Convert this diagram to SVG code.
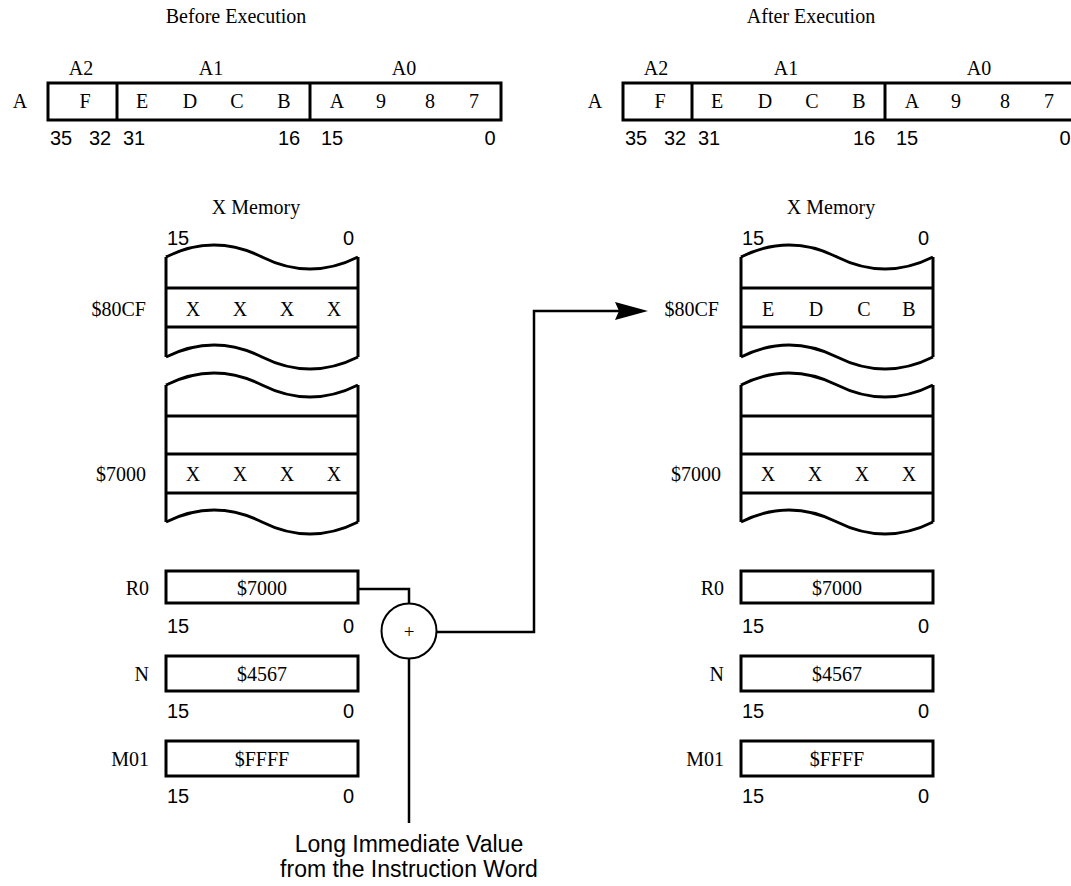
<svg xmlns="http://www.w3.org/2000/svg" width="1071" height="886" viewBox="0 0 1071 886">
<style>
.s{font-family:"Liberation Serif","Times New Roman",serif;font-size:20px;fill:#000}
.n{font-family:"Liberation Sans",Arial,sans-serif;font-size:20px;fill:#000}
.m{text-anchor:middle}
.e{text-anchor:end}
.b{fill:none;stroke:#000;stroke-width:3}
.c{fill:none;stroke:#000;stroke-width:2.5}
</style>
<defs>
<g id="reg">
<text class="s m" x="81" y="75">A2</text>
<text class="s m" x="211" y="75">A1</text>
<text class="s m" x="404" y="75">A0</text>
<text class="s m" x="20" y="108">A</text>
<rect class="b" x="48" y="83" width="453" height="37"/>
<line class="b" x1="117" y1="83" x2="117" y2="120"/>
<line class="b" x1="310" y1="83" x2="310" y2="120"/>
<text class="s m" x="85" y="108">F</text>
<text class="s m" x="142" y="108">E</text>
<text class="s m" x="190" y="108">D</text>
<text class="s m" x="237" y="108">C</text>
<text class="s m" x="284" y="108">B</text>
<text class="s m" x="337" y="108">A</text>
<text class="s m" x="381" y="108">9</text>
<text class="s m" x="430" y="108">8</text>
<text class="s m" x="474" y="108">7</text>
<text class="n m" x="61" y="145">35</text>
<text class="n m" x="100" y="145">32</text>
<text class="n m" x="134" y="145">31</text>
<text class="n m" x="289" y="145">16</text>
<text class="n m" x="332" y="145">15</text>
<text class="n m" x="490" y="145">0</text>
</g>
<path id="wave" class="b" d="M166,0 C198,-16 230,-16 262,0 C294,16 326,16 358,0"/>
</defs>

<g id="before-title"><text class="s m" x="236" y="23">Before Execution</text></g>
<g id="after-title"><text class="s m" x="811" y="23">After Execution</text></g>

<g id="acc-before"><use href="#reg"/></g>
<g id="acc-after"><use href="#reg" transform="translate(575,0)"/></g>

<g id="xmem-before">
<text class="s m" x="256" y="214">X Memory</text>
<text class="n" x="167" y="245">15</text>
<text class="n e" x="354" y="245">0</text>
<use href="#wave" transform="translate(0,257)"/>
<use href="#wave" transform="translate(0,357)"/>
<line class="b" x1="166" y1="257" x2="166" y2="357"/>
<line class="b" x1="358" y1="257" x2="358" y2="357"/>
<line class="b" x1="166" y1="288" x2="358" y2="288"/>
<line class="b" x1="166" y1="327" x2="358" y2="327"/>
<text class="s e" x="146" y="316">$80CF</text>
<text class="s m" x="193" y="316">X</text>
<text class="s m" x="240" y="316">X</text>
<text class="s m" x="287" y="316">X</text>
<text class="s m" x="334" y="316">X</text>
<use href="#wave" transform="translate(0,385)"/>
<use href="#wave" transform="translate(0,522)"/>
<line class="b" x1="166" y1="385" x2="166" y2="522"/>
<line class="b" x1="358" y1="385" x2="358" y2="522"/>
<line class="b" x1="166" y1="416" x2="358" y2="416"/>
<line class="b" x1="166" y1="454" x2="358" y2="454"/>
<line class="b" x1="166" y1="493" x2="358" y2="493"/>
<text class="s e" x="146" y="481">$7000</text>
<text class="s m" x="193" y="481">X</text>
<text class="s m" x="240" y="481">X</text>
<text class="s m" x="287" y="481">X</text>
<text class="s m" x="334" y="481">X</text>
</g>

<g id="xmem-after">
<text class="s m" x="831" y="214">X Memory</text>
<text class="n" x="742" y="245">15</text>
<text class="n e" x="929" y="245">0</text>
<use href="#wave" transform="translate(575,257)"/>
<use href="#wave" transform="translate(575,357)"/>
<line class="b" x1="741" y1="257" x2="741" y2="357"/>
<line class="b" x1="933" y1="257" x2="933" y2="357"/>
<line class="b" x1="741" y1="288" x2="933" y2="288"/>
<line class="b" x1="741" y1="327" x2="933" y2="327"/>
<text class="s e" x="719" y="316">$80CF</text>
<text class="s m" x="768" y="316">E</text>
<text class="s m" x="816" y="316">D</text>
<text class="s m" x="864" y="316">C</text>
<text class="s m" x="909" y="316">B</text>
<use href="#wave" transform="translate(575,385)"/>
<use href="#wave" transform="translate(575,522)"/>
<line class="b" x1="741" y1="385" x2="741" y2="522"/>
<line class="b" x1="933" y1="385" x2="933" y2="522"/>
<line class="b" x1="741" y1="416" x2="933" y2="416"/>
<line class="b" x1="741" y1="454" x2="933" y2="454"/>
<line class="b" x1="741" y1="493" x2="933" y2="493"/>
<text class="s e" x="721" y="481">$7000</text>
<text class="s m" x="768" y="481">X</text>
<text class="s m" x="815" y="481">X</text>
<text class="s m" x="862" y="481">X</text>
<text class="s m" x="909" y="481">X</text>
</g>

<g id="regs-before">
<text class="s e" x="149" y="595">R0</text>
<rect class="b" x="166" y="571" width="192" height="32"/>
<text class="s m" x="262" y="595">$7000</text>
<text class="n" x="167" y="633">15</text>
<text class="n e" x="354" y="633">0</text>
<text class="s e" x="149" y="681">N</text>
<rect class="b" x="166" y="656" width="192" height="35"/>
<text class="s m" x="262" y="681">$4567</text>
<text class="n" x="167" y="718">15</text>
<text class="n e" x="354" y="718">0</text>
<text class="s e" x="149" y="766">M01</text>
<rect class="b" x="166" y="741" width="192" height="35"/>
<text class="s m" x="262" y="766">$FFFF</text>
<text class="n" x="167" y="803">15</text>
<text class="n e" x="354" y="803">0</text>
</g>

<g id="regs-after">
<text class="s e" x="724" y="595">R0</text>
<rect class="b" x="741" y="571" width="192" height="32"/>
<text class="s m" x="837" y="595">$7000</text>
<text class="n" x="742" y="633">15</text>
<text class="n e" x="929" y="633">0</text>
<text class="s e" x="724" y="681">N</text>
<rect class="b" x="741" y="656" width="192" height="35"/>
<text class="s m" x="837" y="681">$4567</text>
<text class="n" x="742" y="718">15</text>
<text class="n e" x="929" y="718">0</text>
<text class="s e" x="724" y="766">M01</text>
<rect class="b" x="741" y="741" width="192" height="35"/>
<text class="s m" x="837" y="766">$FFFF</text>
<text class="n" x="742" y="803">15</text>
<text class="n e" x="929" y="803">0</text>
</g>

<g id="adder">
<circle cx="409" cy="631" r="27.5" fill="#fff" stroke="#000" stroke-width="2"/>
<text class="s m" x="409" y="638" style="font-size:19px">+</text>
</g>

<g id="connectors">
<polyline class="c" points="358,589 409,589 409,603.5"/>
<line class="c" x1="409" y1="658.5" x2="409" y2="823"/>
<polyline class="c" points="436.5,632 534,632 534,311 620,311"/>
<path d="M648,311 L615,302 L619,311 L615,320 Z" fill="#000"/>
</g>

<g id="imm-label">
<text class="n m" x="409" y="852" style="font-size:23px">Long Immediate Value</text>
<text class="n m" x="409" y="877" style="font-size:23px">from the Instruction Word</text>
</g>
</svg>
